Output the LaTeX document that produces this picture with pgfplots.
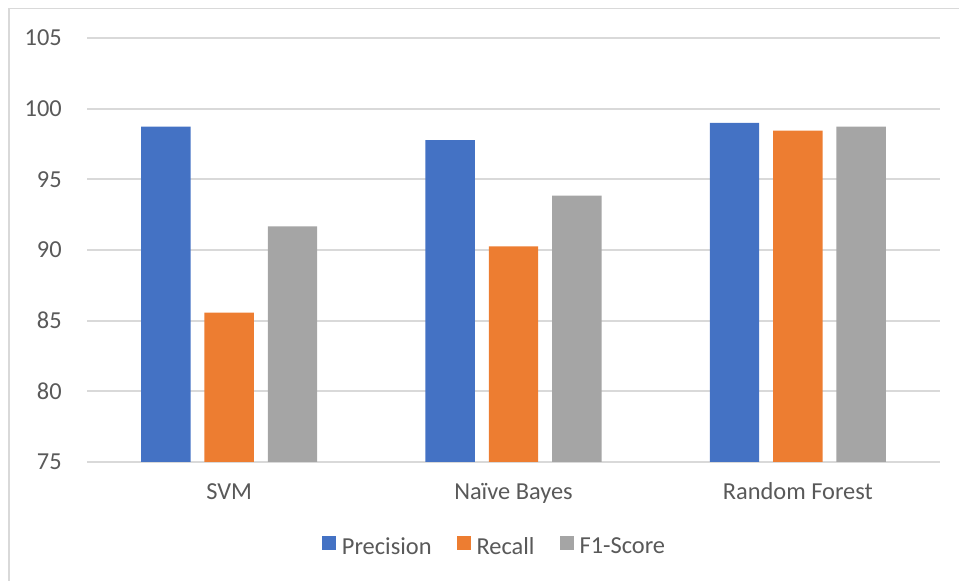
\documentclass[border=0pt]{standalone}
\usepackage{pgfplots}
\pgfplotsset{compat=1.18}
\usepackage{fontspec}
\setmainfont{Carlito}
\definecolor{cblue}{HTML}{4472C4}
\definecolor{corange}{HTML}{ED7D31}
\definecolor{cgray}{HTML}{A5A5A5}
\definecolor{tgray}{HTML}{595959}
\definecolor{gridc}{HTML}{D9D9D9}
\newcommand{\lblfont}{\fontsize{18.3pt}{22pt}\selectfont}
\begin{document}
\begin{tikzpicture}
\path[use as bounding box] (0,0) rectangle (719.25pt,435.75pt);
\draw[gridc, line width=1.1pt] (6.75pt,0) -- (6.75pt,429.4pt) -- (719.25pt,429.4pt);
\begin{axis}[
  at={(65.25pt,89.25pt)}, anchor=south west,
  scale only axis, width=639.75pt, height=318pt,
  xmin=-0.5, xmax=2.5, ymin=75, ymax=105,
  ytick={75,80,85,90,95,100,105},
  xtick={0,1,2},
  xticklabels={SVM, Naïve Bayes, Random Forest},
  /pgf/number format/assume math mode=true,
  axis line style={draw=none},
  major tick style={draw=none},
  xmajorgrids=false, ymajorgrids=true,
  major grid style={draw=gridc, line width=1.3pt},
  yticklabel style={font=\lblfont, text=tgray, anchor=east, inner sep=0pt, xshift=-18.75pt},
  xticklabel style={font=\lblfont, text=tgray, anchor=base, inner sep=0pt, yshift=-28pt},
  bar width=37.1pt,
  legend columns=3,
  legend style={at={(0.4766,-0.198)}, anchor=center, draw=none, font=\lblfont, text=tgray,
    inner sep=0pt, nodes={inner sep=0pt},
    /tikz/every odd column/.append style={column sep=4.5pt},
    /tikz/every even column/.append style={column sep=18.75pt}},
  legend image code/.code={\fill[#1] (0pt,-2pt) rectangle (10.5pt,8.5pt);},
]
\addplot[ybar, bar shift=-47.5pt, fill=cblue, draw=none] coordinates {(0,98.73) (1,97.78) (2,98.99)};
\addplot[ybar, bar shift=0pt, fill=corange, draw=none] coordinates {(0,85.57) (1,90.26) (2,98.44)};
\addplot[ybar, bar shift=47.5pt, fill=cgray, draw=none] coordinates {(0,91.68) (1,93.85) (2,98.73)};
\legend{Precision, Recall, F1-Score}
\end{axis}
\end{tikzpicture}
\end{document}
